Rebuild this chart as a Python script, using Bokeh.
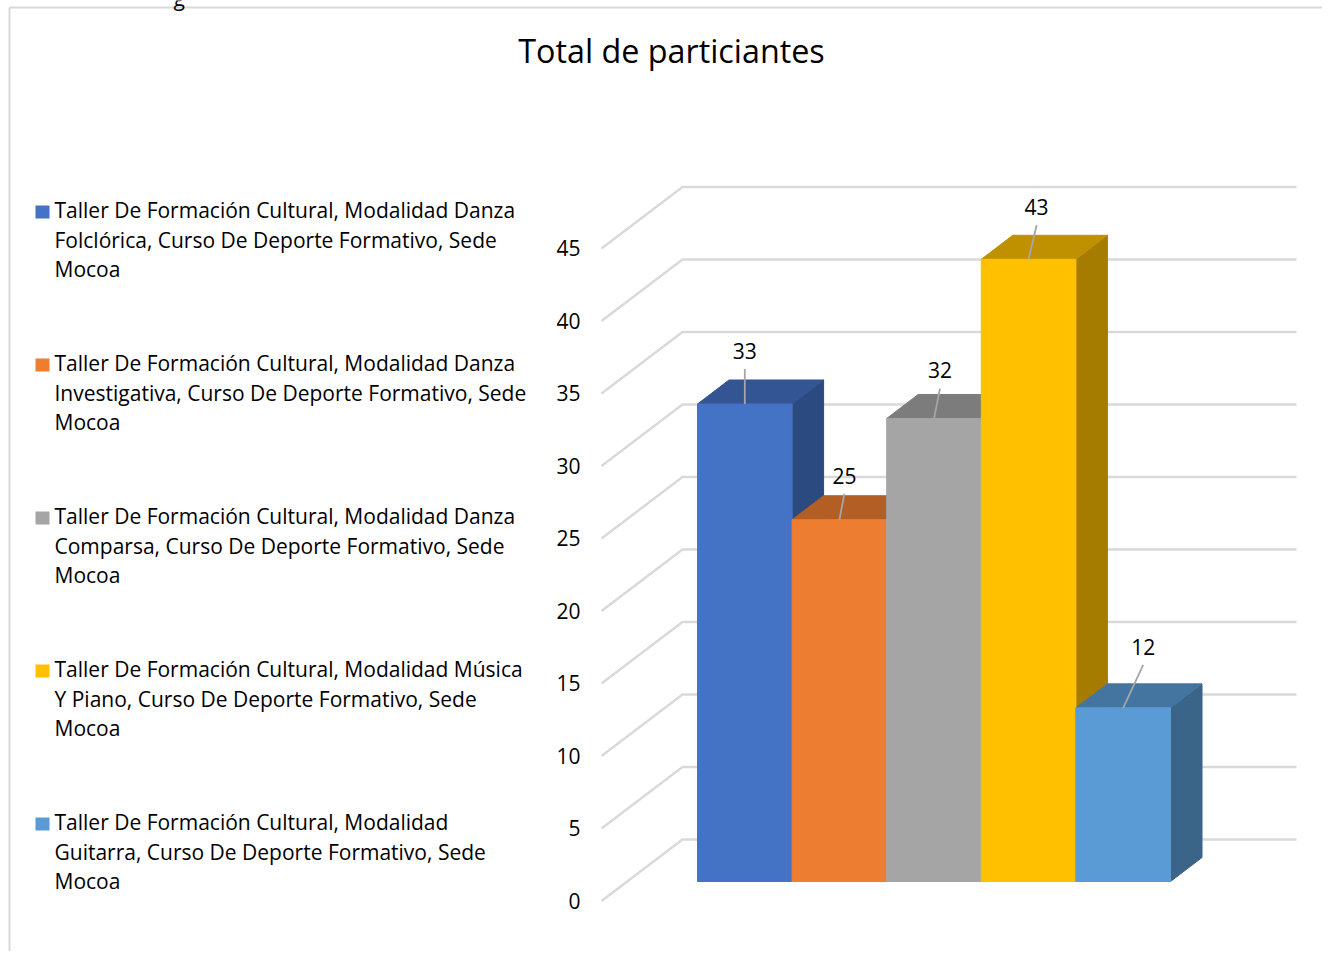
from bokeh.plotting import figure
from bokeh.models import Range1d, LinearAxis, FixedTicker
from bokeh.core.properties import value
from bokeh.embed import file_html
from bokeh.resources import INLINE

TITLE = "Total de particiantes"
values = [33, 25, 32, 43, 12]
legend_lines = [
    ["Taller De Formación Cultural, Modalidad Danza", "Folclórica, Curso De Deporte Formativo, Sede", "Mocoa"],
    ["Taller De Formación Cultural, Modalidad Danza", "Investigativa, Curso De Deporte Formativo, Sede", "Mocoa"],
    ["Taller De Formación Cultural, Modalidad Danza", "Comparsa, Curso De Deporte Formativo, Sede", "Mocoa"],
    ["Taller De Formación Cultural, Modalidad Música", "Y Piano, Curso De Deporte Formativo, Sede", "Mocoa"],
    ["Taller De Formación Cultural, Modalidad", "Guitarra, Curso De Deporte Formativo, Sede", "Mocoa"],
]
front_colors = ["#4472C4", "#ED7D31", "#A5A5A5", "#FFC000", "#5B9BD5"]
top_colors = ["#335593", "#B25E24", "#7C7C7C", "#BF9000", "#4475A0"]
side_colors = ["#2B4A80", "#9C5220", "#6C6C6C", "#A67C00", "#3A6488"]
axis_ticks = [0, 5, 10, 15, 20, 25, 30, 35, 40, 45]

FONT = "Open Sans"
LABEL_SIZE = "21px"
W, H = 1322, 951
PX_PER_UNIT = 14.5
ZERO_PX = 900.0


def yd(py):
    return (ZERO_PX - py) / PX_PER_UNIT


p = figure(width=W, height=H, output_backend="svg", toolbar_location=None,
           x_range=Range1d(0, W), y_range=Range1d(yd(H), yd(0)),
           x_axis_location=None, y_axis_location=None,
           min_border=0, outline_line_color=None)
p.grid.visible = False

# chart border (left and top)
p.line([9, 9], [yd(H), yd(7)], line_color="#d9d9d9", line_width=2)
p.line([9, W], [yd(7), yd(7)], line_color="#d9d9d9", line_width=2)

# descender of the text line cut off above the chart
p.text([173], [yd(-3)], text=["g"], text_font=value(FONT), text_font_size=LABEL_SIZE,
       text_color="#000000", text_align="left", text_baseline="alphabetic")

# gridlines: floor-side diagonal and back wall
for t in axis_ticks:
    p.line([601, 682, 1296],
           [t + yd(900.5), t + yd(839), t + yd(839)],
           line_color="#d9d9d9", line_width=2.4)

# bars
BAR_X0, BAR_W, BAR_Y0, BAR_PX = 697.0, 94.6, 881.0, 14.47
DX, DY = 31.5, 24
for i, v in enumerate(values):
    x0 = BAR_X0 + i * BAR_W
    x1 = x0 + BAR_W
    top = yd(BAR_Y0 - BAR_PX * v)
    base = yd(BAR_Y0)
    d = DY / PX_PER_UNIT
    p.patch([x1, x1 + DX, x1 + DX, x1], [base, base + d, top + d, top],
            fill_color=side_colors[i], line_color=side_colors[i], line_width=1)
    p.patch([x0, x0 + DX, x1 + DX, x1], [top, top + d, top + d, top],
            fill_color=top_colors[i], line_color=top_colors[i], line_width=1)
    p.patch([x0, x1, x1, x0], [base, base, top, top],
            fill_color=front_colors[i], line_color=front_colors[i], line_width=1)

# data labels with leader lines
label_dx = [0, 5, 6, 8, 20]
label_dy = [53, 44, 48, 52, 61]
for i, v in enumerate(values):
    cx = BAR_X0 + (i + 0.5) * BAR_W
    top_px = BAR_Y0 - BAR_PX * v
    lx, ly = cx + label_dx[i], top_px - label_dy[i]
    p.line([cx, lx], [yd(top_px), yd(ly + 18)], line_color="#a6a6a6", line_width=1.8)
    p.text([lx], [yd(ly)], text=[str(v)], text_font=value(FONT), text_font_size=LABEL_SIZE,
           text_color="#000000", text_align="center", text_baseline="middle")

# value axis
axis = LinearAxis(fixed_location=591, ticker=FixedTicker(ticks=axis_ticks),
                  axis_line_color=None, major_tick_line_color=None, minor_tick_line_color=None,
                  major_label_text_font=FONT, major_label_text_font_size=LABEL_SIZE,
                  major_label_text_color="#000000", major_label_standoff=5)
p.add_layout(axis, "left")

# legend
for i, lines in enumerate(legend_lines):
    y0 = 209.5 + 153 * i
    p.rect([42], [yd(y0 + 2)], width=14, height=13 / PX_PER_UNIT,
           fill_color=front_colors[i], line_color=None)
    for j, line in enumerate(lines):
        p.text([54], [yd(y0 + 29.5 * j)], text=[line], text_font=value(FONT),
               text_font_size=LABEL_SIZE, text_color="#000000",
               text_align="left", text_baseline="middle")

# title
p.text([671], [yd(49)], text=[TITLE], text_font=value(FONT), text_font_size="32.3px",
       text_color="#000000", text_align="center", text_baseline="middle")

open("out.html", "w").write(file_html(p, INLINE))
